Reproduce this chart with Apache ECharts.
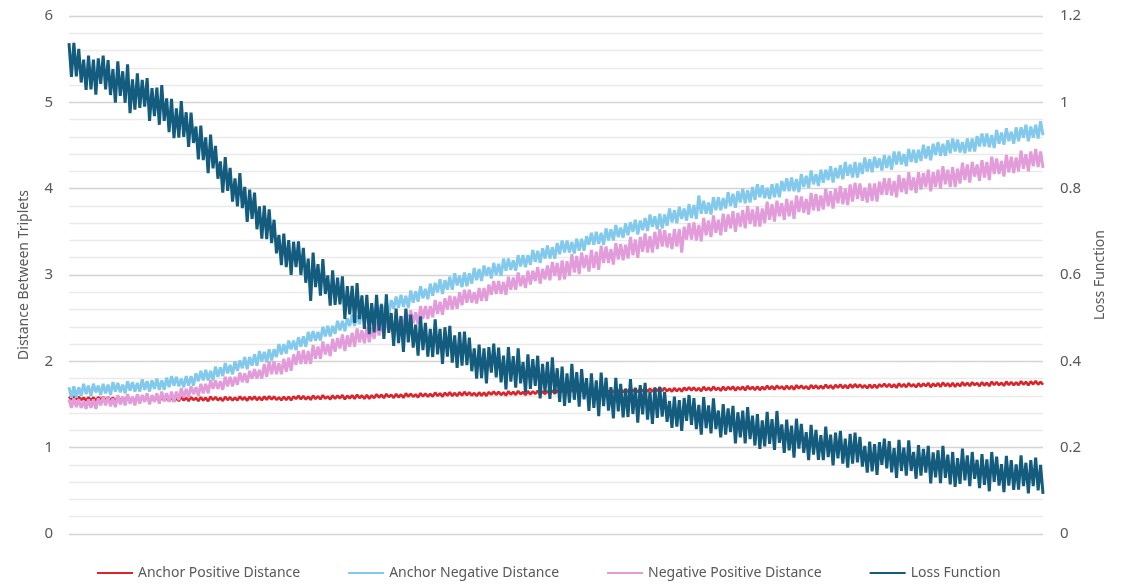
<!DOCTYPE html>
<html>
<head>
<meta charset="utf-8">
<script src="https://cdn.jsdelivr.net/npm/echarts@6/dist/echarts.min.js"></script>
<style>
  html, body { margin: 0; padding: 0; background: #fff; }
  #chart { width: 1121px; height: 584px; }
</style>
</head>
<body>
<div id="chart"></div>
<script>
// values, 400 samples per series (left to right), one row ~ 1/10 of the run
const anchorPositive = [
  1.593, 1.555, 1.595, 1.557, 1.589, 1.551, 1.579, 1.545, 1.584, 1.547, 1.582, 1.543, 1.585, 1.556, 1.590, 1.552, 1.586, 1.547, 1.579, 1.541,
  1.589, 1.550, 1.580, 1.545, 1.589, 1.550, 1.575, 1.541, 1.584, 1.545, 1.581, 1.550, 1.585, 1.537, 1.577, 1.546, 1.580, 1.538, 1.586, 1.546,
  1.575, 1.537, 1.580, 1.536, 1.574, 1.541, 1.587, 1.547, 1.580, 1.541, 1.586, 1.552, 1.577, 1.540, 1.585, 1.546, 1.579, 1.539, 1.590, 1.552,
  1.585, 1.549, 1.577, 1.542, 1.589, 1.551, 1.585, 1.547, 1.580, 1.548, 1.593, 1.554, 1.584, 1.545, 1.589, 1.556, 1.593, 1.551, 1.585, 1.549,
  1.593, 1.555, 1.596, 1.558, 1.592, 1.554, 1.583, 1.549, 1.590, 1.553, 1.589, 1.550, 1.594, 1.565, 1.600, 1.562, 1.598, 1.559, 1.592, 1.554,
  1.604, 1.565, 1.596, 1.561, 1.607, 1.568, 1.594, 1.560, 1.605, 1.566, 1.603, 1.572, 1.609, 1.561, 1.602, 1.571, 1.607, 1.565, 1.614, 1.574,
  1.605, 1.567, 1.611, 1.567, 1.606, 1.573, 1.620, 1.580, 1.614, 1.575, 1.621, 1.587, 1.613, 1.576, 1.622, 1.583, 1.617, 1.577, 1.629, 1.591,
  1.625, 1.589, 1.618, 1.583, 1.631, 1.593, 1.628, 1.590, 1.624, 1.592, 1.638, 1.599, 1.630, 1.591, 1.636, 1.603, 1.641, 1.599, 1.634, 1.598,
  1.643, 1.605, 1.646, 1.608, 1.642, 1.604, 1.633, 1.599, 1.640, 1.603, 1.639, 1.600, 1.644, 1.615, 1.650, 1.612, 1.648, 1.609, 1.642, 1.604,
  1.654, 1.615, 1.646, 1.611, 1.657, 1.618, 1.644, 1.610, 1.655, 1.616, 1.653, 1.622, 1.659, 1.611, 1.652, 1.621, 1.657, 1.615, 1.664, 1.624,
  1.665, 1.627, 1.670, 1.626, 1.665, 1.632, 1.678, 1.638, 1.672, 1.633, 1.678, 1.644, 1.670, 1.633, 1.678, 1.639, 1.673, 1.633, 1.684, 1.646,
  1.680, 1.644, 1.672, 1.637, 1.685, 1.647, 1.681, 1.643, 1.677, 1.645, 1.690, 1.651, 1.682, 1.643, 1.687, 1.654, 1.692, 1.650, 1.684, 1.648,
  1.693, 1.655, 1.696, 1.658, 1.692, 1.654, 1.683, 1.649, 1.690, 1.653, 1.689, 1.650, 1.694, 1.665, 1.700, 1.662, 1.698, 1.659, 1.692, 1.654,
  1.704, 1.665, 1.696, 1.661, 1.707, 1.668, 1.694, 1.660, 1.705, 1.666, 1.703, 1.672, 1.709, 1.661, 1.702, 1.671, 1.707, 1.665, 1.714, 1.674,
  1.705, 1.667, 1.710, 1.666, 1.705, 1.672, 1.718, 1.678, 1.712, 1.673, 1.718, 1.684, 1.710, 1.673, 1.718, 1.679, 1.713, 1.673, 1.724, 1.686,
  1.720, 1.684, 1.712, 1.677, 1.725, 1.687, 1.721, 1.683, 1.717, 1.685, 1.730, 1.691, 1.722, 1.683, 1.727, 1.694, 1.732, 1.690, 1.724, 1.688,
  1.733, 1.695, 1.736, 1.698, 1.732, 1.694, 1.723, 1.689, 1.730, 1.693, 1.729, 1.690, 1.734, 1.705, 1.740, 1.702, 1.738, 1.699, 1.732, 1.694,
  1.744, 1.705, 1.736, 1.701, 1.747, 1.708, 1.734, 1.700, 1.745, 1.706, 1.743, 1.712, 1.749, 1.701, 1.742, 1.711, 1.747, 1.705, 1.754, 1.714,
  1.745, 1.707, 1.750, 1.706, 1.745, 1.712, 1.758, 1.718, 1.752, 1.713, 1.758, 1.724, 1.750, 1.713, 1.758, 1.719, 1.753, 1.713, 1.764, 1.726,
  1.760, 1.724, 1.752, 1.717, 1.765, 1.727, 1.761, 1.723, 1.757, 1.725, 1.770, 1.731, 1.762, 1.723, 1.767, 1.734, 1.772, 1.730, 1.764, 1.728
];

const anchorNegative = [
  1.70, 1.58, 1.71, 1.58, 1.70, 1.60, 1.74, 1.62, 1.72, 1.60, 1.74, 1.64, 1.72, 1.61, 1.74, 1.63, 1.73, 1.61, 1.76, 1.65,
  1.75, 1.64, 1.73, 1.63, 1.77, 1.66, 1.76, 1.65, 1.75, 1.65, 1.79, 1.67, 1.77, 1.65, 1.78, 1.68, 1.80, 1.67, 1.78, 1.67,
  1.81, 1.70, 1.83, 1.72, 1.82, 1.71, 1.80, 1.70, 1.83, 1.72, 1.83, 1.72, 1.86, 1.77, 1.89, 1.78, 1.90, 1.78, 1.89, 1.78,
  1.94, 1.82, 1.93, 1.83, 1.98, 1.86, 1.96, 1.85, 2.00, 1.89, 2.01, 1.92, 2.05, 1.91, 2.05, 1.95, 2.08, 1.95, 2.12, 2.00,
  2.11, 1.99, 2.14, 2.01, 2.14, 2.05, 2.20, 2.08, 2.20, 2.09, 2.24, 2.14, 2.24, 2.13, 2.28, 2.17, 2.29, 2.17, 2.34, 2.23,
  2.35, 2.24, 2.34, 2.24, 2.40, 2.29, 2.41, 2.29, 2.41, 2.32, 2.47, 2.36, 2.47, 2.35, 2.50, 2.41, 2.54, 2.41, 2.53, 2.43,
  2.60, 2.47, 2.63, 2.50, 2.64, 2.50, 2.62, 2.50, 2.67, 2.53, 2.68, 2.54, 2.71, 2.61, 2.75, 2.62, 2.77, 2.63, 2.76, 2.62,
  2.82, 2.68, 2.81, 2.69, 2.87, 2.73, 2.84, 2.72, 2.90, 2.76, 2.91, 2.80, 2.95, 2.78, 2.94, 2.83, 2.98, 2.83, 3.02, 2.88,
  2.99, 2.86, 3.03, 2.87, 3.02, 2.90, 3.08, 2.94, 3.07, 2.93, 3.11, 2.99, 3.09, 2.96, 3.14, 3.00, 3.13, 2.99, 3.19, 3.05,
  3.19, 3.06, 3.17, 3.05, 3.23, 3.10, 3.23, 3.09, 3.23, 3.12, 3.29, 3.15, 3.28, 3.14, 3.31, 3.19, 3.34, 3.19, 3.32, 3.19,
  3.37, 3.24, 3.40, 3.26, 3.40, 3.26, 3.38, 3.25, 3.42, 3.28, 3.42, 3.28, 3.45, 3.35, 3.49, 3.35, 3.50, 3.36, 3.49, 3.35,
  3.54, 3.40, 3.53, 3.40, 3.58, 3.44, 3.55, 3.43, 3.60, 3.46, 3.61, 3.50, 3.64, 3.47, 3.63, 3.52, 3.66, 3.51, 3.70, 3.56,
  3.68, 3.53, 3.71, 3.54, 3.70, 3.57, 3.77, 3.61, 3.75, 3.60, 3.79, 3.65, 3.77, 3.63, 3.82, 3.66, 3.81, 3.65, 3.92, 3.71,
  3.86, 3.71, 3.84, 3.70, 3.90, 3.75, 3.90, 3.75, 3.89, 3.77, 3.96, 3.80, 3.94, 3.78, 3.97, 3.84, 4.00, 3.83, 3.98, 3.84,
  4.02, 3.87, 4.05, 3.90, 4.04, 3.89, 4.01, 3.88, 4.05, 3.90, 4.06, 3.90, 4.09, 3.97, 4.12, 3.97, 4.13, 3.97, 4.11, 3.96,
  4.17, 4.02, 4.15, 4.01, 4.21, 4.05, 4.17, 4.03, 4.22, 4.07, 4.22, 4.10, 4.26, 4.07, 4.24, 4.12, 4.27, 4.11, 4.31, 4.15,
  4.28, 4.13, 4.31, 4.13, 4.30, 4.17, 4.36, 4.20, 4.34, 4.19, 4.37, 4.24, 4.35, 4.21, 4.39, 4.24, 4.38, 4.22, 4.43, 4.28,
  4.43, 4.28, 4.40, 4.26, 4.46, 4.31, 4.45, 4.30, 4.45, 4.32, 4.51, 4.35, 4.49, 4.33, 4.52, 4.39, 4.54, 4.38, 4.52, 4.38,
  4.56, 4.41, 4.58, 4.43, 4.57, 4.42, 4.54, 4.41, 4.58, 4.43, 4.58, 4.43, 4.61, 4.49, 4.64, 4.49, 4.64, 4.48, 4.62, 4.47,
  4.68, 4.52, 4.65, 4.51, 4.70, 4.55, 4.66, 4.52, 4.71, 4.55, 4.71, 4.59, 4.74, 4.55, 4.72, 4.59, 4.74, 4.58, 4.78, 4.62
];

const negativePositive = [
  1.56, 1.46, 1.57, 1.47, 1.56, 1.46, 1.54, 1.45, 1.56, 1.46, 1.56, 1.45, 1.57, 1.49, 1.59, 1.49, 1.59, 1.48, 1.57, 1.47,
  1.61, 1.50, 1.59, 1.49, 1.62, 1.51, 1.59, 1.49, 1.62, 1.51, 1.61, 1.53, 1.63, 1.50, 1.61, 1.53, 1.63, 1.51, 1.65, 1.54,
  1.63, 1.53, 1.65, 1.53, 1.65, 1.55, 1.69, 1.58, 1.68, 1.58, 1.71, 1.62, 1.70, 1.60, 1.74, 1.63, 1.74, 1.63, 1.78, 1.68,
  1.78, 1.68, 1.77, 1.67, 1.82, 1.71, 1.82, 1.71, 1.82, 1.73, 1.87, 1.76, 1.86, 1.75, 1.89, 1.80, 1.91, 1.80, 1.90, 1.80,
  1.97, 1.82, 2.00, 1.85, 2.00, 1.85, 1.98, 1.85, 2.03, 1.88, 2.04, 1.89, 2.08, 1.96, 2.12, 1.97, 2.13, 1.97, 2.12, 1.97,
  2.19, 2.03, 2.17, 2.03, 2.23, 2.08, 2.20, 2.06, 2.26, 2.11, 2.27, 2.15, 2.31, 2.12, 2.30, 2.17, 2.33, 2.17, 2.38, 2.22,
  2.36, 2.21, 2.40, 2.22, 2.39, 2.26, 2.46, 2.30, 2.45, 2.30, 2.49, 2.36, 2.48, 2.33, 2.53, 2.37, 2.52, 2.36, 2.59, 2.44,
  2.59, 2.44, 2.57, 2.43, 2.64, 2.49, 2.64, 2.49, 2.64, 2.51, 2.71, 2.55, 2.69, 2.54, 2.73, 2.60, 2.76, 2.60, 2.75, 2.61,
  2.80, 2.65, 2.83, 2.68, 2.83, 2.68, 2.80, 2.67, 2.85, 2.70, 2.85, 2.70, 2.89, 2.77, 2.93, 2.78, 2.93, 2.78, 2.92, 2.77,
  2.98, 2.83, 2.97, 2.83, 3.03, 2.87, 2.99, 2.85, 3.05, 2.89, 3.05, 2.93, 3.09, 2.90, 3.07, 2.95, 3.11, 2.94, 3.15, 2.99,
  3.14, 2.94, 3.17, 2.95, 3.16, 2.99, 3.24, 3.03, 3.22, 3.01, 3.26, 3.08, 3.23, 3.04, 3.29, 3.08, 3.27, 3.06, 3.34, 3.14,
  3.33, 3.14, 3.30, 3.12, 3.37, 3.18, 3.36, 3.17, 3.35, 3.19, 3.44, 3.23, 3.41, 3.20, 3.44, 3.27, 3.48, 3.26, 3.45, 3.26,
  3.50, 3.30, 3.53, 3.33, 3.52, 3.32, 3.48, 3.30, 3.53, 3.33, 3.53, 3.26, 3.56, 3.41, 3.60, 3.41, 3.61, 3.40, 3.58, 3.39,
  3.66, 3.46, 3.63, 3.44, 3.69, 3.49, 3.64, 3.46, 3.71, 3.50, 3.70, 3.54, 3.74, 3.50, 3.72, 3.56, 3.75, 3.54, 3.80, 3.59,
  3.76, 3.56, 3.79, 3.56, 3.77, 3.60, 3.85, 3.64, 3.82, 3.62, 3.86, 3.68, 3.83, 3.64, 3.88, 3.68, 3.86, 3.65, 3.92, 3.73,
  3.91, 3.72, 3.88, 3.70, 3.95, 3.75, 3.94, 3.74, 3.92, 3.76, 4.00, 3.80, 3.97, 3.77, 4.00, 3.83, 4.03, 3.82, 4.00, 3.81,
  4.05, 3.85, 4.07, 3.88, 4.06, 3.86, 4.01, 3.84, 4.06, 3.86, 4.06, 3.85, 4.08, 3.93, 4.12, 3.93, 4.12, 3.92, 4.09, 3.90,
  4.16, 3.96, 4.12, 3.94, 4.19, 3.98, 4.13, 3.95, 4.19, 3.99, 4.18, 4.02, 4.22, 3.97, 4.19, 4.02, 4.22, 4.00, 4.26, 4.05,
  4.22, 4.02, 4.25, 4.02, 4.23, 4.06, 4.30, 4.10, 4.28, 4.07, 4.31, 4.14, 4.28, 4.09, 4.33, 4.13, 4.31, 4.10, 4.37, 4.17,
  4.35, 4.17, 4.32, 4.14, 4.39, 4.19, 4.37, 4.18, 4.36, 4.20, 4.44, 4.23, 4.40, 4.20, 4.43, 4.26, 4.46, 4.25, 4.43, 4.24
];

const lossFunction = [
  1.137, 1.059, 1.138, 1.060, 1.124, 1.046, 1.099, 1.029, 1.108, 1.030, 1.099, 1.018, 1.102, 1.043, 1.108, 1.030, 1.098, 1.017, 1.077, 0.999,
  1.095, 1.015, 1.072, 0.999, 1.088, 0.975, 1.053, 0.983, 1.067, 0.987, 1.052, 0.990, 1.056, 0.957, 1.033, 0.968, 1.034, 0.948, 1.040, 0.957,
  1.009, 0.931, 1.008, 0.917, 0.986, 0.918, 1.003, 0.920, 0.977, 0.897, 0.976, 0.906, 0.944, 0.868, 0.946, 0.866, 0.919, 0.836, 0.925, 0.847,
  0.899, 0.823, 0.863, 0.791, 0.873, 0.795, 0.848, 0.770, 0.824, 0.759, 0.836, 0.755, 0.804, 0.723, 0.798, 0.730, 0.791, 0.706, 0.759, 0.684,
  0.761, 0.683, 0.752, 0.674, 0.728, 0.650, 0.693, 0.623, 0.696, 0.618, 0.681, 0.600, 0.677, 0.618, 0.678, 0.600, 0.663, 0.582, 0.638, 0.540,
  0.652, 0.572, 0.625, 0.552, 0.637, 0.556, 0.599, 0.529, 0.611, 0.531, 0.594, 0.532, 0.597, 0.498, 0.574, 0.509, 0.575, 0.489, 0.581, 0.498,
  0.553, 0.475, 0.554, 0.463, 0.535, 0.467, 0.554, 0.471, 0.532, 0.452, 0.555, 0.466, 0.512, 0.436, 0.522, 0.442, 0.505, 0.422, 0.522, 0.444,
  0.508, 0.432, 0.485, 0.413, 0.504, 0.426, 0.489, 0.411, 0.475, 0.410, 0.497, 0.416, 0.475, 0.394, 0.479, 0.411, 0.482, 0.397, 0.460, 0.385,
  0.468, 0.390, 0.469, 0.391, 0.455, 0.377, 0.430, 0.360, 0.439, 0.361, 0.430, 0.349, 0.433, 0.374, 0.441, 0.363, 0.432, 0.351, 0.413, 0.335,
  0.433, 0.353, 0.412, 0.339, 0.430, 0.349, 0.398, 0.328, 0.416, 0.336, 0.405, 0.343, 0.413, 0.314, 0.394, 0.329, 0.399, 0.313, 0.409, 0.326,
  0.384, 0.306, 0.388, 0.297, 0.372, 0.304, 0.394, 0.311, 0.375, 0.295, 0.382, 0.312, 0.361, 0.285, 0.372, 0.292, 0.356, 0.273, 0.374, 0.296,
  0.362, 0.286, 0.340, 0.268, 0.362, 0.284, 0.348, 0.270, 0.336, 0.271, 0.359, 0.278, 0.339, 0.258, 0.345, 0.277, 0.350, 0.265, 0.330, 0.255,
  0.338, 0.269, 0.341, 0.272, 0.329, 0.260, 0.308, 0.246, 0.318, 0.249, 0.310, 0.239, 0.315, 0.262, 0.322, 0.253, 0.315, 0.243, 0.299, 0.230,
  0.317, 0.245, 0.298, 0.233, 0.314, 0.243, 0.286, 0.224, 0.301, 0.230, 0.291, 0.236, 0.297, 0.210, 0.282, 0.224, 0.286, 0.210, 0.294, 0.220,
  0.274, 0.205, 0.278, 0.197, 0.263, 0.203, 0.283, 0.209, 0.266, 0.195, 0.285, 0.211, 0.254, 0.188, 0.265, 0.194, 0.251, 0.177, 0.267, 0.198,
  0.255, 0.188, 0.236, 0.171, 0.253, 0.184, 0.241, 0.172, 0.229, 0.171, 0.249, 0.178, 0.230, 0.159, 0.235, 0.175, 0.239, 0.163, 0.221, 0.154,
  0.232, 0.163, 0.235, 0.166, 0.225, 0.156, 0.204, 0.142, 0.214, 0.145, 0.208, 0.137, 0.213, 0.160, 0.221, 0.152, 0.215, 0.143, 0.199, 0.130,
  0.218, 0.146, 0.200, 0.135, 0.217, 0.146, 0.190, 0.128, 0.206, 0.135, 0.197, 0.142, 0.204, 0.117, 0.189, 0.131, 0.194, 0.118, 0.204, 0.130,
  0.184, 0.115, 0.190, 0.109, 0.176, 0.116, 0.198, 0.124, 0.182, 0.111, 0.190, 0.128, 0.172, 0.106, 0.185, 0.114, 0.173, 0.099, 0.190, 0.121,
  0.179, 0.112, 0.162, 0.097, 0.181, 0.112, 0.171, 0.102, 0.161, 0.103, 0.182, 0.111, 0.165, 0.094, 0.171, 0.111, 0.177, 0.101, 0.160, 0.093
];

const steps = lossFunction.map((_, i) => i + 1);
const seriesNames = ["Anchor Positive Distance", "Anchor Negative Distance", "Negative Positive Distance", "Loss Function"];
const colors = ["#D9252B", "#82C9EB", "#E39CDA", "#145C7E"];
const widths = [2.6, 3, 3, 3];

const chart = echarts.init(document.getElementById("chart"));
const font = "'Noto Sans', sans-serif";
const textColor = "#595959";

const makeLine = (name, data, color, width, yAxisIndex) => ({
  name,
  type: "line",
  data,
  yAxisIndex,
  showSymbol: false,
  symbol: "none",
  lineStyle: { color, width, join: "bevel" },
  itemStyle: { color }
});

chart.setOption({
  animation: false,
  textStyle: { fontFamily: font },
  grid: { left: 69, right: 78, top: 16, bottom: 50 },
  legend: {
    top: 561,
    left: 92,
    icon: "rect",
    itemWidth: 36,
    itemHeight: 2,
    itemGap: 48,
    textStyle: { color: textColor, fontSize: 14, fontFamily: font },
    data: seriesNames
  },
  xAxis: {
    type: "category",
    data: steps,
    boundaryGap: false,
    axisLine: { show: false },
    axisTick: { show: false },
    axisLabel: { show: false },
    splitLine: { show: false }
  },
  yAxis: [
    {
      type: "value",
      min: 0,
      max: 6,
      interval: 1,
      name: "Distance Between Triplets",
      nameLocation: "middle",
      nameGap: 38,
      nameTextStyle: { color: textColor, fontSize: 14, fontFamily: font },
      axisLine: { show: false },
      axisTick: { show: false },
      axisLabel: { color: textColor, fontSize: 15, margin: 16 },
      splitLine: { lineStyle: { color: "#D4D4D4", width: 1.3 } },
      minorTick: { show: false, splitNumber: 5 },
      minorSplitLine: { show: true, lineStyle: { color: "#EAEAEA", width: 1.3 } }
    },
    {
      type: "value",
      min: 0,
      max: 1.2,
      interval: 0.2,
      name: "Loss Function",
      nameLocation: "middle",
      nameGap: 50,
      nameTextStyle: { color: textColor, fontSize: 14, fontFamily: font },
      axisLine: { show: false },
      axisTick: { show: false },
      axisLabel: {
        color: textColor,
        fontSize: 15,
        margin: 17,
        formatter: (v) => (v === 0 || v === 1 ? String(v) : v.toFixed(1))
      },
      splitLine: { show: false }
    }
  ],
  series: [
    makeLine(seriesNames[0], anchorPositive, colors[0], widths[0], 0),
    makeLine(seriesNames[1], anchorNegative, colors[1], widths[1], 0),
    makeLine(seriesNames[2], negativePositive, colors[2], widths[2], 0),
    makeLine(seriesNames[3], lossFunction, colors[3], widths[3], 1)
  ]
});

window.addEventListener("resize", () => chart.resize());
</script>
</body>
</html>
